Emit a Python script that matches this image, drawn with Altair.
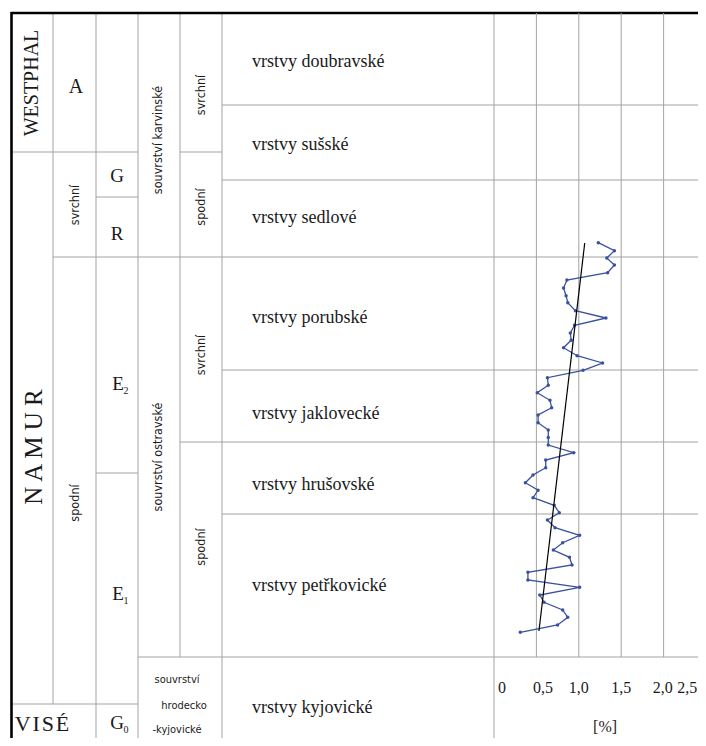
import altair as alt
import pandas as pd

# ---------------- chart frame (page pixels) ----------------
W, H = 690, 730
TOP, BOTTOM = 8, 738          # y-domain of the whole chart (page px)
LEFT, RIGHT = 8, 698          # x-domain of the table part (page px)

GRAY = "#a3a3a3"
BLUE = "#3a529e"
SERIF = "Liberation Serif"
NARROW = "'Liberation Sans Narrow', 'DejaVu Sans Condensed', 'Liberation Sans'"

# ---------------- table structure ----------------
# cell border segments: x1, y1, x2, y2
seg_x1 = [53, 96, 138, 180, 222, 494,
          222, 12, 180, 222, 96, 53, 222, 180, 96, 222, 138, 12]
seg_x2 = [53, 96, 138, 180, 222, 494,
          706, 138, 222, 706, 138, 706, 706, 706, 138, 706, 706, 138]
seg_y1 = [13, 13, 13, 13, 13, 13,
          105, 152, 152, 180, 197, 257, 370, 442, 473, 514, 657, 704]
seg_y2 = [704, 738, 738, 657, 738, 738,
          105, 152, 152, 180, 197, 257, 370, 442, 473, 514, 657, 704]

# heavy black frame (top and left)
frame_x1 = [11, 11.5]
frame_x2 = [706, 11.5]
frame_y1 = [13, 12]
frame_y2 = [13, 738]

# serif labels (chronostratigraphy, zones)
serif_text = ["WESTPHAL", "N A M U R", "V\u200aI\u200aS\u200aÉ", "A", "G", "R", "E", "E", "G"]
serif_x = [32, 34, 42, 76, 117, 117, 118, 118, 117]
serif_y = [83, 447, 724, 87, 176, 234, 384, 594, 723]
serif_size = [20, 25, 22, 20, 19, 19, 19, 19, 19]
serif_angle = [270, 270, 0, 0, 0, 0, 0, 0, 0]

sub_text = ["2", "1", "0"]
sub_x = [126, 126, 126]
sub_y = [391, 601, 730]

# sans labels (substages, formations)
sans_text = ["svrchní", "spodní", "souvrství karvinské", "souvrství ostravské",
             "svrchní", "spodní", "svrchní", "spodní"]
sans_x = [75, 75, 158, 158, 201, 201, 201, 201]
sans_y = [205, 503, 140, 457, 95, 207, 355, 547]

hk_text = ["souvrství", "hrodecko", "-kyjovické"]
hk_x = [177, 184, 177]
hk_y = [680, 706, 730]

# layer (member) names
layers = ["vrstvy doubravské", "vrstvy sušské", "vrstvy sedlové", "vrstvy porubské",
          "vrstvy jaklovecké", "vrstvy hrušovské", "vrstvy petřkovické", "vrstvy kyjovické"]
layer_y = [62, 145, 218, 318, 414, 485, 586, 708]
layer_x = 252

# ---------------- measured series ----------------
sample_level = [242.7, 250.7, 258, 265, 272.7, 280, 288, 295.7, 302.7, 310.7,
                318, 325.3, 333, 340.3, 347.7, 355.7, 363, 370.3, 377.7, 385.3,
                392.7, 400.3, 407.7, 415, 422.7, 430, 437.5, 445, 452.7, 460,
                467.7, 475, 482.7, 490.3, 497.7, 505.3, 512.7, 520, 527.7, 535.3,
                542.7, 550, 557.3, 565, 572.3, 580, 587.3, 595, 602.3, 610,
                617.3, 625, 632.3]
sample_value = [1.23, 1.42, 1.33, 1.42, 1.34, 0.86, 0.82, 0.85, 0.87, 0.96,
                1.32, 0.95, 0.90, 0.91, 0.82, 0.98, 1.28, 1.05, 0.63, 0.64,
                0.51, 0.66, 0.68, 0.52, 0.52, 0.64, 0.64, 0.64, 0.94, 0.61,
                0.61, 0.46, 0.37, 0.52, 0.46, 0.71, 0.77, 0.63, 0.72, 1.01,
                0.81, 0.70, 0.89, 0.92, 0.40, 0.40, 1.01, 0.54, 0.59, 0.81,
                0.87, 0.75, 0.31]

trend_level = [243, 631]
trend_value = [1.07, 0.53]

grid_values = [0.5, 1.0, 1.5, 2.0, 2.5]
grid_top, grid_bottom = 13, 657

tick_text = ["0", "0,5", "1,0", "1,5", "2,0", "2,5"]
tick_pos = [0.094, 0.578, 1.0, 1.5, 1.99, 2.28]
tick_level = 688
unit_text = "[%]"
unit_pos = 1.31
unit_level = 727

# ---------------- scales ----------------
xs = alt.Scale(domain=[LEFT, RIGHT], range=[0, W])
ys = alt.Scale(domain=[TOP, BOTTOM], range=[0, H])
dxs = alt.Scale(domain=[0, 2.5], range=[494 - LEFT, 706 - LEFT])

# ---------------- table layers ----------------
seg_df = pd.DataFrame({"x1": seg_x1, "x2": seg_x2, "y1": seg_y1, "y2": seg_y2})
frame_df = pd.DataFrame({"x1": frame_x1, "x2": frame_x2, "y1": frame_y1, "y2": frame_y2})

def seg_chart(df, color, width):
    return alt.Chart(df).mark_rule(color=color, strokeWidth=width).encode(
        x=alt.X("x1:Q", scale=xs, axis=None),
        x2="x2:Q",
        y=alt.Y("y1:Q", scale=ys, axis=None),
        y2="y2:Q",
    )

cells = seg_chart(seg_df, GRAY, 1)
frame = seg_chart(frame_df, "black", 2.6)

serif_df = pd.DataFrame({"t": serif_text, "x": serif_x, "y": serif_y,
                         "s": serif_size, "a": serif_angle})
serif_layer = alt.Chart(serif_df).mark_text(font=SERIF, color="#1a1a1a",
                                            baseline="middle", align="center").encode(
    x=alt.X("x:Q", scale=xs, axis=None),
    y=alt.Y("y:Q", scale=ys, axis=None),
    text="t:N",
    size=alt.Size("s:Q", scale=None, legend=None),
    angle=alt.Angle("a:Q", scale=None, legend=None),
)

sub_df = pd.DataFrame({"t": sub_text, "x": sub_x, "y": sub_y})
sub_layer = alt.Chart(sub_df).mark_text(font=SERIF, color="#1a1a1a", fontSize=10,
                                        baseline="middle", align="center").encode(
    x=alt.X("x:Q", scale=xs, axis=None),
    y=alt.Y("y:Q", scale=ys, axis=None),
    text="t:N",
)

sans_df = pd.DataFrame({"t": sans_text, "x": sans_x, "y": sans_y})
sans_layer = alt.Chart(sans_df).mark_text(font=NARROW, color="#1a1a1a", fontSize=12.5,
                                          baseline="middle", align="center",
                                          angle=270).encode(
    x=alt.X("x:Q", scale=xs, axis=None),
    y=alt.Y("y:Q", scale=ys, axis=None),
    text="t:N",
)

hk_df = pd.DataFrame({"t": hk_text, "x": hk_x, "y": hk_y})
hk_layer = alt.Chart(hk_df).mark_text(font=NARROW, color="#1a1a1a", fontSize=11,
                                      baseline="middle", align="center").encode(
    x=alt.X("x:Q", scale=xs, axis=None),
    y=alt.Y("y:Q", scale=ys, axis=None),
    text="t:N",
)

layer_df = pd.DataFrame({"t": layers, "y": layer_y, "x": [layer_x] * len(layers)})
layer_layer = alt.Chart(layer_df).mark_text(font=SERIF, color="#1a1a1a", fontSize=18,
                                            baseline="middle", align="left").encode(
    x=alt.X("x:Q", scale=xs, axis=None),
    y=alt.Y("y:Q", scale=ys, axis=None),
    text="t:N",
)

table = alt.layer(cells, serif_layer, sub_layer, sans_layer, hk_layer, layer_layer, frame)

# ---------------- data layers ----------------
grid_df = pd.DataFrame({"v": grid_values, "y1": [grid_top] * len(grid_values),
                        "y2": [grid_bottom] * len(grid_values)})
grid = alt.Chart(grid_df).mark_rule(color=GRAY, strokeWidth=1).encode(
    x=alt.X("v:Q", scale=dxs, axis=None),
    y=alt.Y("y1:Q", scale=ys, axis=None),
    y2="y2:Q",
)

series_df = pd.DataFrame({"i": list(range(len(sample_value))),
                          "v": sample_value, "lvl": sample_level})
line = alt.Chart(series_df).mark_line(color=BLUE, strokeWidth=1.3).encode(
    x=alt.X("v:Q", scale=dxs, axis=None),
    y=alt.Y("lvl:Q", scale=ys, axis=None),
    order="i:Q",
)
pts = alt.Chart(series_df).mark_circle(color=BLUE, size=12, opacity=1).encode(
    x=alt.X("v:Q", scale=dxs, axis=None),
    y=alt.Y("lvl:Q", scale=ys, axis=None),
)

trend_df = pd.DataFrame({"i": [0, 1], "v": trend_value, "lvl": trend_level})
trend = alt.Chart(trend_df).mark_line(color="black", strokeWidth=1.2).encode(
    x=alt.X("v:Q", scale=dxs, axis=None),
    y=alt.Y("lvl:Q", scale=ys, axis=None),
    order="i:Q",
)

tick_df = pd.DataFrame({"t": tick_text, "v": tick_pos, "lvl": [tick_level] * len(tick_text)})
ticks = alt.Chart(tick_df).mark_text(font=SERIF, fontSize=16, color="#1a1a1a",
                                     baseline="middle", align="center").encode(
    x=alt.X("v:Q", scale=dxs, axis=None),
    y=alt.Y("lvl:Q", scale=ys, axis=None),
    text="t:N",
)
unit_df = pd.DataFrame({"t": [unit_text], "v": [unit_pos], "lvl": [unit_level]})
unit = alt.Chart(unit_df).mark_text(font=SERIF, fontSize=16, color="#1a1a1a",
                                    baseline="middle", align="center").encode(
    x=alt.X("v:Q", scale=dxs, axis=None),
    y=alt.Y("lvl:Q", scale=ys, axis=None),
    text="t:N",
)

plot = alt.layer(grid, line, pts, trend, ticks, unit)

chart = alt.layer(table, plot).resolve_scale(x="independent").properties(
    width=W, height=H, padding=0,
    autosize=alt.AutoSizeParams(type="none"),
    background="white",
).configure_view(stroke=None)

chart.save("out.html", embed_options={"renderer": "svg", "actions": False})
